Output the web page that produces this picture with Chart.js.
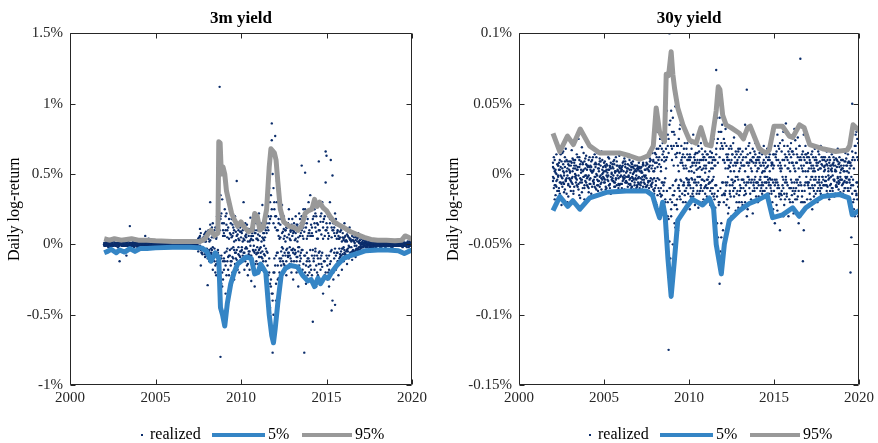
<!DOCTYPE html>
<html>
<head>
<meta charset="utf-8">
<script src="https://cdn.jsdelivr.net/npm/chart.js@4.4.1/dist/chart.umd.min.js"></script>
<style>
  html, body { margin: 0; padding: 0; background: #fff; }
  #wrap { width: 878px; height: 443px; display: flex; }
  .panel { width: 439px; height: 443px; position: relative; }
</style>
</head>
<body>
<div id="wrap">
  <div class="panel"><canvas id="chart3m"></canvas></div>
  <div class="panel"><canvas id="chart30y"></canvas></div>
</div>
<script>
// realized daily log-returns on a 0.05-year grid from 2002.0
const realizedStart = 2002;
const realizedStep = 0.05;

// 3m yield, basis points (1 = 0.01%)
const realized3mA = [
  1,-1,0,2,-1,0,1,-2,0,1,-1,2,0,-1,1,0,-2,1,-12,0,
  1,0,-1,2,-1,0,-8,1,0,-1,13,0,1,-1,2,0,-1,1,0,-2,
  0,1,-1,0,1,-1,0,2,6,-1,0,1,4,-1,0,1,-1,0,1,0,
  -1,0,1,0,-1,1,0,-1,0,1,0,-1,1,0,0,-1,1,0,-1,0,
  1,0,-1,0,1,0,-1,0,1,-1,0,1,0,-1,0,1,0,-1,0,1,
  0,-1,1,0,-1,0,1,0,-1,1,2,-3,11,-15,3,-2,4,-5,2,6,
  -8,-29,9,-4,30,-6,5,-10,7,-3,12,-14,8,-6,15,112,-80,22,-30,10,
  -18,25,-35,14,-12,30,-22,8,-15,18,-9,12,-25,20,-6,45,-14,10,-20,9,
  -12,16,-8,30,-18,6,-10,14,-22,11,-5,19,-26,8,-15,12,-30,20,-7,10,
  -14,22,-9,15,-18,28,-12,8,-20,16,-35,25,-30,40,-45,35,86,-77,-50,30,
  77,-40,45,-25,18,-38,22,-15,28,-12,20,-18,10,-22,15,-8,25,-14,9,-20,
  18,-25,10,-15,20,-9,14,-30,22,-12,8,56,-18,25,-77,51,-28,15,-22,30,
  -20,35,-25,12,-55,28,-18,22,-30,15,-10,59,-26,20,-14,30,-35,18,-22,44,
  63,-25,20,-30,15,60,-47,49,-20,12,-43,18,-15,10,-22,14,-9,12,-18,8,
  -12,15,-8,10,-14,6,-10,12,-6,9,-11,8,-5,7,-9,6,-4,8,-6,5,
  -3,4,-2,3,-4,2,-1,3,-2,1,-3,2,0,-1,2,-2,1,0,-1,2,
  0,-1,1,-2,1,0,-1,2,-1,0,1,-1,0,2,-1,0,1,-2,0,1,
  -1,0,1,-1,2,0,-1,1,0,-2,1,0,-1,1,0,2,-1,0,1,-1
];
const realized3mB = [
  0,1,-1,0,1,-2,1,0,-1,0,2,-1,0,1,-1,0,1,-1,0,1,
  -1,1,0,-1,0,1,-1,0,2,-1,0,1,-1,0,1,-2,0,1,-1,0,
  1,0,-1,1,0,-1,2,0,-1,0,1,-1,0,1,0,-1,0,1,-1,0,
  0,1,-1,0,1,0,-1,0,1,-1,0,0,1,-1,0,1,0,-1,0,1,
  -1,0,1,-1,0,0,1,-1,0,1,-1,0,0,1,-1,0,1,0,-1,0,
  1,0,-1,0,1,-1,0,1,0,-1,-3,5,-2,4,-6,3,-4,7,-9,2,
  5,-4,10,-12,3,-7,12,-2,-9,6,-15,4,20,-8,-18,10,35,-10,15,-25,
  8,-12,20,-5,10,-18,4,-8,15,-3,6,-10,2,-14,9,-4,12,-7,3,-9,
  5,-2,10,-6,3,-12,7,-3,9,-5,2,-8,4,-10,6,-1,8,-4,15,-6,
  3,-9,6,-2,10,-5,4,-7,12,-3,8,-15,20,-10,30,-25,74,-35,15,-20,
  12,-8,30,-15,6,-10,14,-5,8,-3,11,-6,2,-12,5,-9,7,-2,10,-4,
  6,-3,9,-7,4,-12,2,-5,11,-8,15,-4,6,-14,9,-20,12,-6,18,-10,
  10,-15,6,-8,18,-12,25,-5,9,-20,14,-6,28,-10,7,-16,12,-25,20,66,
  15,-10,8,-18,30,-12,5,-40,10,-6,22,-8,4,-12,6,-3,9,-5,2,-7,
  4,-6,2,-5,7,-3,5,-8,3,-2,6,-4,2,-5,3,-1,4,-3,2,-2,
  1,-2,2,-1,0,2,-2,1,-1,0,1,-2,2,-1,0,1,-1,2,-1,0,
  1,0,-1,1,-2,0,1,-1,0,2,-1,0,1,-1,0,1,-2,0,1,-1,
  0,1,-1,0,1,-1,0,2,-1,0,1,-1,0,1,-2,0,1,-1,2,0
];
const realized3mC = [
  -1,0,1,0,-1,1,0,-1,0,1,-1,0,1,0,-1,0,1,-1,1,0,
  0,-1,1,0,-1,0,1,-1,0,0,1,-1,0,1,-1,0,1,0,-1,1,
  0,1,-1,0,0,1,-1,0,1,0,-1,1,0,-1,0,1,-1,0,0,1,
  1,0,-1,1,0,-1,0,1,-1,0,1,0,-1,0,1,0,-1,1,0,-1,
  0,-1,0,1,-1,0,1,0,-1,0,1,-1,0,1,0,-1,0,1,0,-1,
  -1,1,0,-1,0,1,-1,0,1,0,4,-2,6,-4,2,-7,5,-3,8,-4,
  -3,6,-5,2,-12,8,-4,15,-6,10,-20,5,-12,25,-8,-15,18,-28,32,-12,
  15,-6,10,-22,5,-9,18,-4,7,-12,14,-2,10,-6,3,-11,7,-2,14,-5,
  9,-4,2,-10,12,-3,5,-15,2,-7,10,-1,6,-12,3,-5,10,-14,4,-2,
  7,-4,12,-6,2,-10,8,-1,5,-12,15,-6,10,-20,18,-30,25,-40,40,-10,
  -15,20,-6,10,-24,4,-12,18,-2,9,-14,6,-8,12,-3,15,-6,4,-10,14,
  -4,8,-12,3,-6,14,-9,5,-2,18,-6,10,-22,4,15,-8,20,-12,6,-16,
  8,-4,14,-22,6,-10,15,-3,20,-8,4,-14,10,-18,22,-6,16,-12,6,-20,
  -8,12,-20,6,-14,18,-4,10,-25,8,-3,14,-6,9,-12,4,-7,10,-3,5,
  -2,5,-7,3,-4,9,-1,4,-6,2,-5,3,-7,1,5,-3,2,-4,1,3,
  -1,1,0,-2,1,-1,2,0,-1,1,0,-1,1,-2,0,1,0,-1,2,-1,
  0,1,-1,0,1,-1,0,1,0,-2,1,0,-1,1,0,-1,2,0,-1,0,
  1,-1,0,1,-1,0,2,-1,0,1,-1,0,1,-1,0,1,-2,1,0,-1
];
const realized3mD = [
  0,-1,1,0,-1,0,1,0,-1,1,0,-1,0,1,-1,1,0,-1,0,1,
  1,0,-1,1,0,-1,0,1,-1,0,1,0,-1,0,1,-1,0,1,0,-1,
  -1,0,1,-1,0,1,0,-1,1,0,-1,0,1,-1,0,1,0,-1,1,0,
  0,1,0,-1,1,0,-1,1,0,-1,0,1,-1,0,1,0,-1,0,1,-1,
  1,-1,0,1,0,-1,0,1,-1,0,1,0,-1,1,0,-1,1,0,-1,0,
  0,1,-1,0,1,0,-1,1,0,-1,-5,3,-1,8,-6,2,-3,5,-7,9,
  7,-10,4,-6,14,-3,9,-18,5,-12,8,-22,12,-4,28,-16,20,-8,-20,6,
  -10,6,-15,22,-3,12,-8,25,-12,5,-20,8,-4,16,-10,6,-18,4,-8,12,
  -5,8,-12,4,-6,15,-2,9,-14,6,-18,3,-8,12,-4,20,-6,8,-12,4,
  -6,10,-3,14,-9,5,-16,3,-8,10,-5,12,-22,15,-28,20,-35,50,-20,25,
  20,-28,10,-6,15,-20,5,-10,20,-8,4,-15,10,-4,12,-6,18,-8,3,-12,
  10,-6,15,-4,8,-20,12,-2,-15,6,-10,20,-4,12,-8,25,-15,4,-10,8,
  -12,6,-18,8,-4,20,-8,12,-15,4,-22,10,-5,16,-8,-25,4,18,-12,10,
  10,-15,4,-8,18,-5,12,-20,15,-10,6,-18,8,-6,4,-10,5,-8,12,-3,
  3,-4,6,-8,2,-5,9,-2,4,-7,3,-6,5,-1,-4,8,-3,5,-2,-4,
  0,1,-2,1,0,-1,1,-2,0,2,-1,1,-1,0,2,-1,0,1,-2,1,
  -1,1,0,-1,2,-1,0,1,-1,0,0,1,-1,2,0,-1,0,1,-1,0,
  0,-1,2,0,-1,1,0,-1,1,0,2,-1,0,-1,1,0,-1,2,0,1
];

// 30y yield, tenths of a basis point (1 = 0.001%)
const realized30yA = [
  -5,12,-18,3,-9,20,-2,8,-14,5,-22,15,-6,1,-11,18,-3,9,-16,6,
  2,-12,17,-7,10,-20,4,-1,14,-9,25,-15,7,-4,19,-10,3,-18,11,-6,
  -8,5,-13,12,-3,9,-16,2,-6,14,-10,7,-1,-12,4,11,-7,16,-4,1,
  -6,9,-11,3,-2,12,-8,5,-14,1,7,-5,10,-9,2,-12,6,-3,13,-7,
  4,-10,8,-3,11,-6,1,-12,7,-2,10,-8,3,-5,9,-11,2,6,-4,-9,
  5,-7,10,-3,2,-11,8,-6,12,-1,-9,4,14,-10,6,-15,18,-4,9,-12,
  15,-20,8,30,-25,12,-32,5,-15,22,-8,35,-18,10,-40,28,-125,100,-60,45,
  30,-50,20,-35,48,-22,15,-40,25,-12,35,-28,8,-20,18,-15,30,-10,22,-8,
  12,-25,5,18,-14,28,-6,10,-20,3,15,-24,8,-12,22,-4,14,-18,6,-9,
  10,-16,20,-7,12,-22,4,15,-10,25,-14,6,74,40,-45,52,-78,30,-35,20,
  -40,25,-15,32,-22,10,-28,18,-8,20,-30,14,-12,26,-5,16,-20,8,-24,12,
  18,-10,28,-22,6,-15,35,-8,60,-25,20,-4,15,-18,9,-28,12,-12,22,-6,
  10,-20,4,15,-12,18,-6,8,-16,2,14,-10,5,-18,12,-3,20,-14,7,-25,
  30,-35,12,-22,28,-8,18,-40,6,-15,24,-30,10,-18,36,-6,20,-26,14,-10,
  22,-15,8,-28,32,-12,18,-6,26,-35,10,82,-20,14,-62,28,-8,20,-24,12,
  15,-10,22,-18,6,-25,12,-4,18,-14,8,-20,3,14,-12,20,-6,10,-16,5,
  12,-8,16,-14,4,-18,10,-2,14,-12,6,-16,2,11,-9,18,-5,8,-13,3,
  10,-14,6,-10,15,-6,2,-12,9,-4,-70,-45,50,-20,35,-30,28,-15,25,-30
];
const realized30yB = [
  8,-10,2,-15,14,-4,6,-12,10,-1,-7,4,16,-13,9,-5,2,-20,7,-3,
  -9,6,-3,11,-14,8,-2,-6,3,12,-11,5,-17,9,-4,2,15,-8,-1,7,
  3,-9,10,-4,6,-14,1,12,-7,-2,8,-11,15,-5,2,-9,6,-3,10,-13,
  8,-4,2,-10,6,-1,11,-7,4,-12,-3,9,-6,1,12,-8,3,-10,5,-2,
  -7,3,-2,9,-11,5,-6,2,-9,12,-4,1,-10,7,-3,4,-8,11,-1,6,
  -3,8,-10,4,-6,1,-9,11,-2,6,13,-8,3,-12,-5,10,-7,15,-11,2,
  -10,14,-22,5,18,-12,25,-16,10,-28,16,-6,24,-30,45,-20,15,-48,38,-25,
  -20,40,-15,28,-38,12,-25,20,-8,32,-18,10,-28,14,-6,22,-12,18,-4,10,
  -6,10,-16,22,-4,-12,8,-22,15,-8,-2,20,-14,5,-10,18,-20,10,-5,16,
  -8,14,-4,-18,8,-12,22,-5,10,-16,6,-24,18,-35,25,-20,40,-55,22,-15,
  18,-20,8,-12,20,-6,14,-24,5,-16,10,-4,22,-10,8,-26,14,-2,18,-15,
  -8,14,-20,10,-4,25,-12,18,-30,8,-6,22,-14,4,-20,12,-8,16,-2,10,
  -6,12,-16,8,-2,-10,14,-8,20,-12,4,-6,18,-4,-14,10,-8,6,-20,14,
  -12,20,-6,16,-26,10,-14,22,-18,4,-8,30,-22,14,-4,-16,10,-30,8,18,
  -10,16,-20,6,-14,24,-4,-18,12,-8,20,-30,6,-12,16,-40,10,-6,14,-18,
  -6,12,-14,8,-2,16,-10,4,-8,12,-18,6,-10,-4,9,-14,7,-2,12,-8,
  -5,9,-12,6,-1,12,-8,3,-10,7,-4,10,-14,2,-6,9,-11,5,-2,10,
  -8,4,-12,9,-2,11,-6,14,-4,8,-10,6,-14,12,-25,20,-12,30,-18,10
];
const realized30yC = [
  -2,4,-8,1,-5,7,-1,-10,3,-6,9,-3,2,-7,5,-4,10,-1,-8,3,
  1,-5,8,-2,4,-9,0,6,-4,3,-7,10,-3,1,-6,8,-2,-10,4,-1,
  -3,6,-1,-7,3,5,-9,2,-4,7,-2,0,-8,4,-5,9,-1,-6,3,-2,
  2,-6,5,-1,-4,3,-8,6,-2,0,-5,4,-9,2,-3,6,-1,-7,1,4,
  -1,5,-5,2,-3,7,-2,-6,4,-1,3,-7,5,-2,0,-4,6,-3,2,-8,
  3,-2,5,-6,1,-4,6,-1,-7,3,-3,7,-5,2,9,-8,4,-6,10,-3,
  4,-8,12,-3,-10,7,-14,2,18,-6,-12,9,-20,4,12,-30,25,-10,-18,20,
  10,-15,6,-22,14,-4,20,-10,2,-16,8,-5,12,-8,4,-12,6,-3,10,-14,
  2,-8,12,-3,6,-10,1,14,-6,8,-12,4,-2,10,-8,3,-4,12,-10,1,
  6,-4,-10,8,2,-6,12,-14,4,-2,10,-8,14,-16,8,-22,12,-10,30,-6,
  -6,10,-14,4,-8,12,-2,6,-12,8,-4,14,-6,2,-10,6,-14,10,-4,2,
  4,-10,6,-4,12,-6,2,-14,8,-2,6,-10,10,-6,2,-12,8,-4,6,-16,
  2,-6,10,-4,6,-8,1,-12,6,-2,8,-6,-2,10,-6,2,-10,8,-4,4,
  6,-8,14,-4,-10,6,-16,8,2,-12,10,-4,-14,6,-2,12,-8,4,-18,2,
  -4,8,-12,14,-6,2,-10,8,-16,4,-2,12,-8,4,-20,6,-12,2,8,-6,
  2,-6,8,-10,4,-2,6,-12,2,-4,10,-6,8,-2,-8,4,-10,6,-4,2,
  3,-5,7,-9,2,-3,6,-7,4,-1,8,-5,3,-9,5,-2,7,-6,1,-4,
  4,-7,2,-5,9,-3,6,-10,1,-6,8,-2,10,-8,4,-12,15,-6,12,-9
];
const realized30yD = [
  5,-3,10,-8,0,-12,6,3,-6,14,-2,-9,7,-1,12,-5,-14,4,-7,9,
  -4,9,-6,2,-12,6,10,-3,-8,5,-1,12,-6,3,-13,7,-2,9,-5,13,
  6,-2,-10,5,-7,2,10,-5,3,-9,5,12,-4,-8,7,-2,9,-11,0,5,
  -3,6,-9,7,1,-5,3,-10,8,-4,5,-1,7,-6,-4,9,-12,2,-8,6,
  2,-7,6,-4,-1,9,-5,4,-2,-7,6,-3,8,-9,5,1,-6,3,-10,4,
  -6,4,2,-8,5,-2,7,-4,3,-9,8,-12,-6,5,11,-3,-9,6,2,-14,
  8,-5,18,-15,10,-4,20,-10,-6,14,-22,12,-3,18,-12,20,-32,35,-10,-30,
  18,-8,30,-12,-5,22,-18,6,-10,15,-4,20,-14,6,-8,12,-20,4,14,-6,
  -4,14,-10,2,8,-16,12,-4,6,-14,10,-6,16,-2,-8,10,-12,4,12,-14,
  4,-10,14,-2,-6,16,-10,8,-4,12,-18,10,-8,22,-12,30,-20,18,-45,35,
  10,-14,22,-6,14,-18,4,10,-14,2,18,-8,6,-16,12,-2,8,-12,16,-20,
  -12,8,-4,16,-10,6,-20,12,-6,14,-2,8,-20,10,-4,18,-6,-10,14,8,
  -10,4,-8,12,-4,6,-14,2,10,-6,-2,12,-14,6,-8,14,-4,-12,8,-6,
  14,-4,-16,10,-6,20,-10,4,-14,16,-2,-10,20,-6,12,-14,4,16,-10,-20,
  12,-6,16,-10,4,-18,8,14,-4,-12,20,-6,10,-16,2,12,-20,14,-2,8,
  -8,4,10,-4,14,-8,2,-16,10,-2,6,-12,16,-6,4,-10,12,-2,-8,10,
  6,-2,-8,10,-4,8,-12,6,2,-10,12,-4,6,-8,10,-3,-7,12,-4,6,
  -4,10,-6,2,-10,6,-2,8,-12,4,6,-8,16,-4,-18,10,20,-14,-6,22
];

// quantile lines, percent
const low3mDates = [2002.0,2002.2,2002.4,2002.7,2002.9,2003.2,2003.5,2003.8,2004.1,2004.5,2005.0,2006.0,2007.0,2007.7,2008.0,2008.25,2008.5,2008.7,2008.8,2008.92,2009.05,2009.2,2009.4,2009.6,2009.8,2010.0,2010.3,2010.6,2010.8,2011.0,2011.15,2011.45,2011.65,2011.8,2011.9,2012.0,2012.15,2012.35,2012.6,2012.9,2013.3,2013.6,2013.9,2014.1,2014.3,2014.5,2014.65,2014.9,2015.1,2015.3,2015.6,2016.0,2016.4,2016.8,2017.3,2018.0,2018.6,2019.2,2019.55,2019.8,2020.0];
const low3mValues = [-0.06,-0.05,-0.035,-0.06,-0.04,-0.055,-0.03,-0.05,-0.03,-0.03,-0.025,-0.02,-0.02,-0.025,-0.05,-0.12,-0.06,-0.1,-0.45,-0.5,-0.58,-0.42,-0.28,-0.2,-0.14,-0.12,-0.09,-0.1,-0.21,-0.2,-0.14,-0.2,-0.5,-0.65,-0.7,-0.6,-0.42,-0.22,-0.17,-0.15,-0.16,-0.22,-0.26,-0.25,-0.3,-0.24,-0.28,-0.23,-0.24,-0.2,-0.15,-0.1,-0.08,-0.065,-0.045,-0.04,-0.04,-0.045,-0.065,-0.05,-0.04];
const high3mDates = [2002.0,2002.3,2002.6,2003.0,2003.3,2003.6,2004.0,2004.5,2005.0,2006.0,2007.0,2007.6,2007.9,2008.1,2008.25,2008.45,2008.65,2008.7,2008.78,2008.85,2008.95,2009.05,2009.15,2009.3,2009.45,2009.6,2009.8,2010.0,2010.2,2010.45,2010.65,2010.8,2010.95,2011.1,2011.3,2011.5,2011.65,2011.75,2011.95,2012.05,2012.15,2012.3,2012.5,2012.8,2013.1,2013.35,2013.55,2013.75,2013.95,2014.15,2014.3,2014.45,2014.6,2014.8,2015.0,2015.2,2015.45,2015.7,2016.0,2016.4,2016.8,2017.2,2017.6,2018.0,2018.5,2019.0,2019.4,2019.6,2019.8,2020.0];
const high3mValues = [0.04,0.03,0.04,0.03,0.035,0.04,0.03,0.03,0.025,0.02,0.02,0.02,0.04,0.08,0.1,0.06,0.08,0.73,0.72,0.5,0.55,0.5,0.38,0.3,0.22,0.18,0.13,0.16,0.12,0.09,0.1,0.22,0.2,0.1,0.12,0.25,0.55,0.68,0.65,0.6,0.45,0.25,0.16,0.13,0.12,0.1,0.13,0.22,0.24,0.25,0.32,0.27,0.3,0.26,0.24,0.2,0.16,0.14,0.12,0.09,0.07,0.05,0.035,0.03,0.03,0.025,0.03,0.06,0.05,0.035];

const low30yDates = [2002.0,2002.4,2002.87,2003.17,2003.58,2004.16,2005.14,2006.3,2007.5,2007.85,2008.07,2008.27,2008.45,2008.6,2008.76,2008.95,2009.15,2009.34,2009.83,2010.2,2010.5,2010.8,2011.2,2011.45,2011.6,2011.9,2012.08,2012.37,2012.96,2013.55,2014.13,2014.6,2014.92,2015.5,2016.1,2016.48,2016.87,2017.46,2017.85,2018.83,2019.4,2019.6,2020.0];
const low30yValues = [-0.026,-0.016,-0.023,-0.019,-0.025,-0.017,-0.013,-0.012,-0.012,-0.015,-0.024,-0.031,-0.02,-0.03,-0.06,-0.087,-0.06,-0.033,-0.024,-0.018,-0.02,-0.022,-0.017,-0.025,-0.05,-0.071,-0.05,-0.033,-0.026,-0.021,-0.018,-0.015,-0.031,-0.029,-0.024,-0.03,-0.024,-0.019,-0.016,-0.0145,-0.017,-0.029,-0.026];
const high30yDates = [2002.0,2002.4,2002.85,2003.2,2003.6,2004.15,2004.75,2005.9,2006.5,2007.1,2007.6,2007.9,2008.07,2008.27,2008.56,2008.66,2008.8,2008.95,2009.05,2009.15,2009.34,2009.64,2010.03,2010.42,2010.7,2011.0,2011.3,2011.6,2011.72,2011.82,2011.98,2012.18,2012.47,2012.96,2013.2,2013.45,2013.6,2014.13,2014.5,2014.72,2015.0,2015.5,2015.9,2016.1,2016.5,2016.77,2017.1,2017.85,2018.63,2019.3,2019.45,2019.65,2020.0];
const high30yValues = [0.029,0.016,0.027,0.021,0.032,0.02,0.015,0.015,0.013,0.0105,0.013,0.02,0.047,0.03,0.023,0.071,0.07,0.087,0.071,0.061,0.047,0.035,0.024,0.022,0.033,0.021,0.02,0.045,0.062,0.06,0.042,0.035,0.033,0.029,0.025,0.033,0.034,0.018,0.015,0.017,0.034,0.034,0.027,0.026,0.035,0.033,0.021,0.018,0.016,0.017,0.02,0.035,0.031];

const SERIF = "'Liberation Serif', 'Times New Roman', serif";
const NAVY = '#0b2d6b';
const BLUE = '#3585c5';
const GRAY = '#999999';
const AXIS = '#262626';

function linePoints(dates, values) {
  return dates.map((d, i) => ({ x: d, y: values[i] }));
}
function realizedPoints(values, unit) {
  return values.map((v, i) => ({ x: realizedStart + i * realizedStep, y: v * unit }));
}

// box round the plot with inward tick marks on all four sides
const framePlugin = {
  id: 'frame',
  afterDatasetsDraw(chart) {
    const { ctx, chartArea: a, scales: { x, y } } = chart;
    const L = Math.round(a.left) + 0.5, R = Math.round(a.right) - 0.5;
    const T = Math.round(a.top) + 0.5, B = Math.round(a.bottom) - 0.5;
    ctx.save();
    ctx.strokeStyle = AXIS;
    ctx.lineWidth = 1;
    ctx.beginPath();
    ctx.rect(L, T, R - L, B - T);
    x.ticks.forEach(t => {
      const px = Math.round(x.getPixelForValue(t.value)) + 0.5;
      ctx.moveTo(px, B); ctx.lineTo(px, B - 5);
      ctx.moveTo(px, T); ctx.lineTo(px, T + 5);
    });
    y.ticks.forEach(t => {
      const py = Math.round(y.getPixelForValue(t.value)) + 0.5;
      ctx.moveTo(L, py); ctx.lineTo(L + 5, py);
      ctx.moveTo(R, py); ctx.lineTo(R - 5, py);
    });
    ctx.stroke();
    ctx.restore();
  }
};

// legend row under each panel, placed from the plot centre
const legendPlugin = {
  id: 'legendRow',
  afterDraw(chart) {
    const { ctx, chartArea: a } = chart;
    const cx = (a.left + a.right) / 2;
    const yy = 435;
    const sets = chart.data.datasets;
    const low = sets.find(d => d.label === '5%');
    const high = sets.find(d => d.label === '95%');
    ctx.save();
    ctx.font = '16px ' + SERIF;
    ctx.textBaseline = 'middle';
    ctx.fillStyle = NAVY;
    ctx.fillRect(cx - 100, yy - 1, 2, 2);
    ctx.fillStyle = '#000';
    ctx.fillText('realized', cx - 91, yy);
    ctx.lineWidth = 4;
    ctx.strokeStyle = low.borderColor;
    ctx.beginPath(); ctx.moveTo(cx - 29, yy); ctx.lineTo(cx + 24, yy); ctx.stroke();
    ctx.fillText(low.label, cx + 27, yy);
    ctx.strokeStyle = high.borderColor;
    ctx.beginPath(); ctx.moveTo(cx + 61, yy); ctx.lineTo(cx + 111, yy); ctx.stroke();
    ctx.fillText(high.label, cx + 114, yy);
    ctx.restore();
  }
};

function makePanel(id, cfg) {
  const tickFont = { family: SERIF, size: 15 };
  return new Chart(document.getElementById(id), {
    data: {
      datasets: [
        { type: 'line', label: '5%', data: linePoints(cfg.lowDates, cfg.lowValues),
          borderColor: BLUE, borderWidth: 5, pointRadius: 0, borderJoinStyle: 'round', order: 0 },
        { type: 'line', label: '95%', data: linePoints(cfg.highDates, cfg.highValues),
          borderColor: GRAY, borderWidth: 5, pointRadius: 0, borderJoinStyle: 'round', order: 0 },
        ...cfg.realized.map(arr => ({
          type: 'scatter', label: 'realized', data: realizedPoints(arr, cfg.unit),
          pointRadius: 1.2, pointBorderWidth: 0, backgroundColor: NAVY, order: 1
        }))
      ]
    },
    options: {
      responsive: true,
      maintainAspectRatio: false,
      animation: false,
      layout: { padding: { left: 0, right: cfg.padRight, top: 0, bottom: 0 } },
      plugins: {
        legend: { display: false },
        tooltip: { enabled: false },
        title: {
          display: true, text: cfg.title, fullSize: false, color: '#000',
          font: { family: SERIF, size: 17, weight: 'bold' },
          padding: { top: 8, bottom: 5 }
        }
      },
      scales: {
        x: {
          type: 'linear', min: 2000, max: 2020,
          grid: { display: false, drawTicks: false },
          border: { display: false },
          ticks: { stepSize: 5, callback: v => String(v), font: tickFont, color: AXIS, padding: 4, maxRotation: 0 },
          afterFit: s => { s.height = 58; }
        },
        y: {
          type: 'linear', min: cfg.yMin, max: cfg.yMax,
          grid: { display: false, drawTicks: false },
          border: { display: false },
          ticks: { stepSize: cfg.yStep, callback: v => Number(v.toFixed(3)) + '%', font: tickFont, color: AXIS, padding: 7 },
          title: { display: true, text: 'Daily log-return', color: '#000', font: { family: SERIF, size: 16 }, padding: { top: 5, bottom: 0 } },
          afterFit: s => { s.width = cfg.yWidth; }
        }
      }
    },
    plugins: [framePlugin, legendPlugin]
  });
}

makePanel('chart3m', {
  title: '3m yield', unit: 0.01,
  realized: [realized3mA, realized3mB, realized3mC, realized3mD],
  lowDates: low3mDates, lowValues: low3mValues,
  highDates: high3mDates, highValues: high3mValues,
  yMin: -1, yMax: 1.5, yStep: 0.5, yWidth: 70, padRight: 27
});

makePanel('chart30y', {
  title: '30y yield', unit: 0.001,
  realized: [realized30yA, realized30yB, realized30yC, realized30yD],
  lowDates: low30yDates, lowValues: low30yValues,
  highDates: high30yDates, highValues: high30yValues,
  yMin: -0.15, yMax: 0.1, yStep: 0.05, yWidth: 80, padRight: 18
});
</script>
</body>
</html>
